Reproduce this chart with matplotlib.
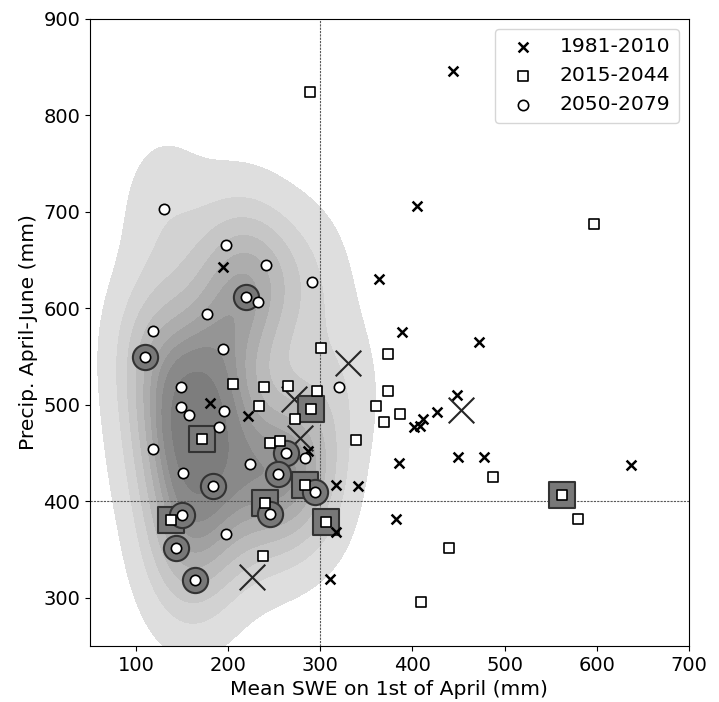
import numpy as np
import matplotlib
matplotlib.use("Agg")
import matplotlib.pyplot as plt

# 1981-2010
swe_81 = [195, 222, 180, 287, 317, 341, 317, 311, 364, 389, 472, 448, 427, 411, 402, 408,
          386, 450, 478, 637, 382, 444, 405]
pr_81 = [643, 488, 502, 452, 417, 416, 368, 319, 630, 575, 565, 510, 492, 485, 477, 478,
         440, 446, 446, 437, 381, 846, 706]

# 2015-2044
swe_15 = [301, 205, 239, 265, 297, 234, 273, 246, 256, 290, 172, 284, 240, 138, 306, 562,
          238, 289, 597, 374, 374, 361, 387, 369, 339, 488, 580, 440, 409]
pr_15 = [559, 522, 518, 519, 514, 499, 485, 460, 462, 496, 464, 417, 398, 380, 378, 406,
         343, 824, 687, 553, 514, 499, 490, 482, 463, 425, 382, 351, 295]

# 2050-2079
swe_50 = [130, 198, 241, 291, 219, 233, 177, 119, 110, 194, 149, 320, 149, 158, 196, 190,
          263, 283, 119, 224, 254, 151, 184, 294, 245, 150, 198, 143, 164]
pr_50 = [703, 666, 645, 627, 612, 606, 594, 576, 549, 558, 518, 518, 498, 489, 493, 477,
         450, 445, 454, 439, 428, 429, 416, 409, 387, 386, 366, 351, 318]

# highlighted members
big_swe_81 = [271, 278, 226, 330, 453]
big_pr_81 = [506, 465, 321, 543, 495]
big_swe_15 = [290, 172, 284, 240, 138, 306, 562]
big_pr_15 = [496, 464, 417, 398, 380, 378, 406]
big_swe_50 = [219, 110, 263, 254, 184, 294, 245, 150, 143, 164]
big_pr_50 = [612, 549, 450, 428, 416, 409, 387, 386, 351, 318]


def kde_grid(x, y, bw_adjust=1.0, n=200, cut=3):
    # gaussian kde with scott bandwidth, like seaborn
    data = np.vstack([x, y]).astype(float)
    cov = np.cov(data) * (len(x) ** (-1.0 / 6) * bw_adjust) ** 2
    sx, sy = np.sqrt(np.diag(cov))
    gx = np.linspace(data[0].min() - cut * sx, data[0].max() + cut * sx, n)
    gy = np.linspace(data[1].min() - cut * sy, data[1].max() + cut * sy, n)
    X, Y = np.meshgrid(gx, gy)
    pts = np.vstack([X.ravel(), Y.ravel()])
    inv = np.linalg.inv(cov)
    Z = np.zeros(pts.shape[1])
    for i in range(data.shape[1]):
        d = pts - data[:, i:i + 1]
        Z += np.exp(-0.5 * np.sum(d * (inv @ d), axis=0))
    return X, Y, Z.reshape(X.shape)


def iso_levels(Z, props):
    vals = np.sort(Z.ravel())[::-1]
    cum = np.cumsum(vals) / vals.sum()
    idx = np.searchsorted(cum, 1 - np.asarray(props))
    return np.take(vals, idx, mode="clip")


fig = plt.figure(figsize=(7.19, 7.02), dpi=100)
ax = fig.add_axes([0.125, 0.08, 0.833, 0.893])

X, Y, Z = kde_grid(swe_50, pr_50)
lev = iso_levels(Z, np.linspace(0.05, 1, 10))
lev[-1] = Z.max() * 1.01
greys = [str(v) for v in np.linspace(0.87, 0.49, len(lev) - 1)]
ax.contourf(X, Y, Z, levels=lev, colors=greys, zorder=0)

ax.axvline(300, color="0.35", lw=0.8, ls=(0, (2, 1)), zorder=1)
ax.axhline(400, color="0.35", lw=0.8, ls=(0, (2, 1)), zorder=1)

ax.scatter(big_swe_81, big_pr_81, marker="x", s=340, c="0.15", linewidths=1.5, zorder=2)
ax.scatter(big_swe_15, big_pr_15, marker="s", s=330, facecolor="0.47", edgecolor="0.2",
           linewidths=1.5, zorder=2)
ax.scatter(big_swe_50, big_pr_50, marker="o", s=330, facecolor="0.47", edgecolor="0.2",
           linewidths=1.5, zorder=2)

ax.scatter(swe_81, pr_81, marker="x", s=50, c="k", linewidths=1.8, zorder=3, label="1981-2010")
ax.scatter(swe_15, pr_15, marker="s", s=60, facecolor="w", edgecolor="k", linewidths=1.2,
           zorder=3, label="2015-2044")
ax.scatter(swe_50, pr_50, marker="o", s=55, facecolor="w", edgecolor="k", linewidths=1.2,
           zorder=3, label="2050-2079")

ax.set_xlim(50, 700)
ax.set_ylim(250, 900)
ax.tick_params(labelsize=14)
ax.set_xlabel("Mean SWE on 1st of April (mm)", fontsize=14.6)
ax.set_ylabel("Precip. April-June (mm)", fontsize=14.6)
ax.legend(loc="upper right", fontsize=14.6)
fig.savefig("out.png", dpi=100)
